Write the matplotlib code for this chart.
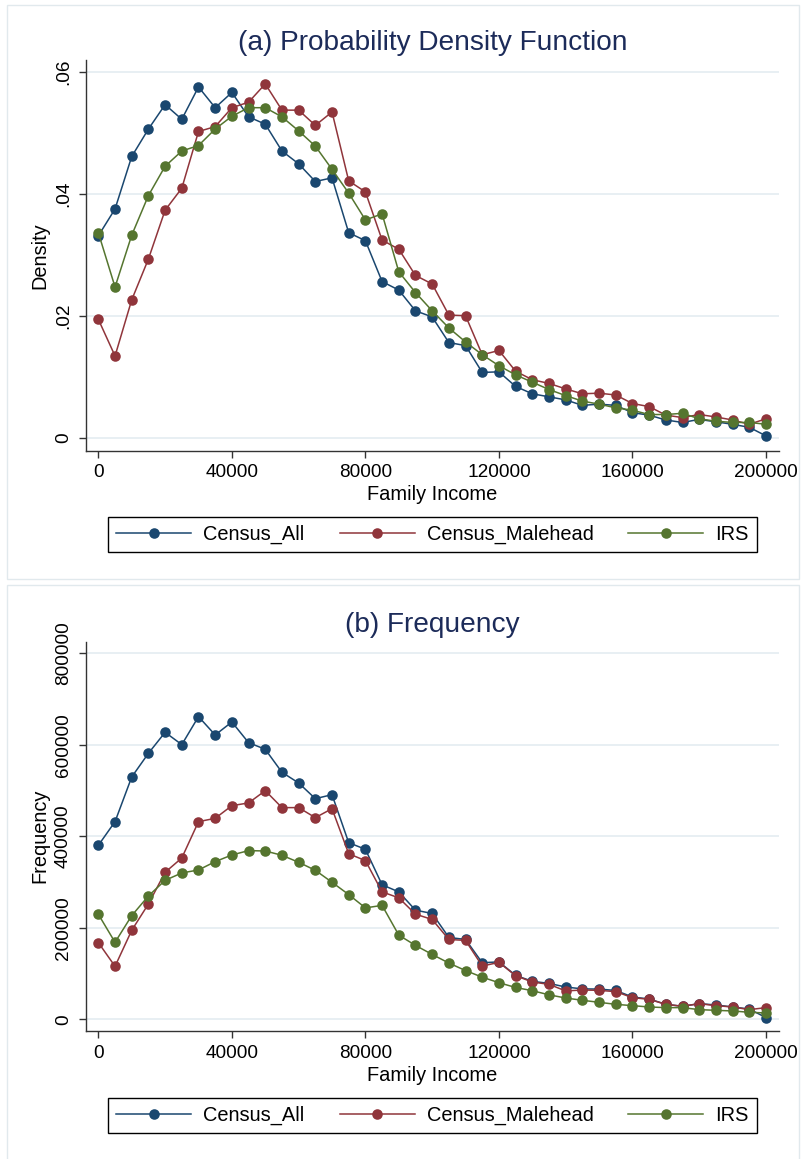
import matplotlib
matplotlib.use("Agg")
import matplotlib.pyplot as plt
from matplotlib.patches import Rectangle

plt.rcParams['font.family'] = ['Liberation Sans', 'DejaVu Sans']

income = [0, 5000, 10000, 15000, 20000, 25000, 30000, 35000, 40000, 45000,
          50000, 55000, 60000, 65000, 70000, 75000, 80000, 85000, 90000, 95000,
          100000, 105000, 110000, 115000, 120000, 125000, 130000, 135000, 140000, 145000,
          150000, 155000, 160000, 165000, 170000, 175000, 180000, 185000, 190000, 195000,
          200000]

dens_all = [0.0331, 0.0375, 0.0461, 0.0506, 0.0546, 0.0522, 0.0575, 0.0541, 0.0566, 0.0526,
            0.0514, 0.0470, 0.0449, 0.0420, 0.0426, 0.0336, 0.0323, 0.0256, 0.0242, 0.0208,
            0.0198, 0.0156, 0.0151, 0.0107, 0.0108, 0.0084, 0.0072, 0.0067, 0.0062, 0.0053,
            0.0055, 0.0053, 0.0041, 0.0037, 0.0029, 0.0025, 0.0030, 0.0026, 0.0022, 0.0017,
            0.0003]
dens_male = [0.0194, 0.0134, 0.0226, 0.0293, 0.0373, 0.0409, 0.0502, 0.0510, 0.0541, 0.0550,
             0.0580, 0.0537, 0.0537, 0.0512, 0.0534, 0.0421, 0.0403, 0.0324, 0.0309, 0.0266,
             0.0252, 0.0201, 0.0200, 0.0136, 0.0143, 0.0109, 0.0095, 0.0089, 0.0080, 0.0072,
             0.0073, 0.0070, 0.0056, 0.0051, 0.0037, 0.0033, 0.0038, 0.0034, 0.0029, 0.0022,
             0.0031]
dens_irs = [0.0336, 0.0247, 0.0332, 0.0397, 0.0445, 0.0470, 0.0479, 0.0506, 0.0527, 0.0541,
            0.0541, 0.0526, 0.0503, 0.0478, 0.0440, 0.0401, 0.0357, 0.0367, 0.0272, 0.0238,
            0.0208, 0.0180, 0.0157, 0.0136, 0.0118, 0.0103, 0.0091, 0.0079, 0.0069, 0.0060,
            0.0055, 0.0049, 0.0045, 0.0038, 0.0038, 0.0040, 0.0031, 0.0027, 0.0025, 0.0025,
            0.0022]

freq_all = [380300, 432000, 529700, 581400, 627300, 600400, 661600, 621500, 649900, 604700,
            590200, 539900, 516600, 482300, 491000, 386000, 371600, 294000, 278500, 238500,
            231300, 178900, 174500, 123600, 125500, 96000, 83000, 78500, 70500, 66500,
            66000, 63000, 48700, 44400, 32700, 28400, 34200, 31300, 26900, 22500,
            3600]
freq_male = [167600, 115800, 194500, 252100, 321300, 352600, 432000, 439300, 467000, 472900,
             499800, 462700, 462700, 440800, 460400, 361800, 346900, 278500, 265500, 229800,
             218200, 174500, 172400, 116400, 124400, 95300, 81500, 76400, 62000, 64000,
             63300, 60400, 47300, 43600, 32700, 28400, 34200, 29800, 26900, 21100,
             25500]
freq_irs = [229500, 168300, 226600, 269600, 303800, 319900, 326400, 344600, 359200, 368700,
            367900, 358500, 343200, 325700, 299500, 272600, 243500, 249000, 184000, 161500,
            141800, 122900, 106500, 92000, 80000, 69500, 62500, 53500, 46500, 41500,
            37100, 32700, 29800, 26900, 25500, 25500, 21100, 19600, 18200, 15300,
            13800]

series_names = ['Census_All', 'Census_Malehead', 'IRS']
colors = ['#1a476f', '#90353b', '#55752f']

x_ticks = [0, 40000, 80000, 120000, 160000, 200000]
x_ticklabels = ['0', '40000', '80000', '120000', '160000', '200000']
dens_ticks = [0, 0.02, 0.04, 0.06]
dens_ticklabels = ['0', '.02', '.04', '.06']
freq_ticks = [0, 200000, 400000, 600000, 800000]
freq_ticklabels = ['0', '200000', '400000', '600000', '800000']

W, H = 803, 1159
fig = plt.figure(figsize=(W / 100, H / 100), dpi=100)
fig.patch.set_facecolor('white')


def rect(l, t, r, b):
    return [l / W, 1 - b / H, (r - l) / W, (b - t) / H]


# panel frames
fig.patches.append(Rectangle((7.3 / W, 1 - 579 / H), (799 - 7.3) / W, (579 - 4.7) / H,
                             transform=fig.transFigure, fill=False, ec='#e1e9ed', lw=1.0))
fig.patches.append(Rectangle((7.3 / W, 1 - 1170 / H), (799 - 7.3) / W, (1170 - 585.3) / H,
                             transform=fig.transFigure, fill=False, ec='#e1e9ed', lw=1.0))

title_color = '#1c2b59'
tick_fs = 13.7
label_fs = 14.4
title_fs = 20.2
legend_fs = 14.4


def style(ax, ylim, yticks, yticklabels, ylabel, title, title_y, legend_y, xpad, xlabelpad):
    ax.set_xlim(-3700, 203900)
    ax.set_ylim(*ylim)
    for s in ['top', 'right']:
        ax.spines[s].set_visible(False)
    for s in ['left', 'bottom']:
        ax.spines[s].set_color('#333333')
        ax.spines[s].set_linewidth(1.0)
    ax.set_xticks(x_ticks)
    ax.set_xticklabels(x_ticklabels, fontsize=tick_fs)
    ax.set_yticks(yticks)
    ax.set_yticklabels(yticklabels, fontsize=tick_fs, rotation=90, va='center')
    ax.tick_params(axis='both', length=5.2, width=1.0, color='#333333')
    ax.tick_params(axis='x', pad=xpad)
    ax.tick_params(axis='y', pad=5)
    ax.grid(axis='y', color='#e6eef2', lw=1.3)
    ax.set_axisbelow(True)
    ax.set_xlabel('Family Income', fontsize=label_fs, labelpad=xlabelpad)
    ax.set_ylabel(ylabel, fontsize=label_fs, labelpad=4)
    fig.text((86 + 779) / 2 / W, 1 - title_y / H, title, ha='center', va='baseline',
             fontsize=title_fs, color=title_color)
    leg = ax.legend(ncol=3, loc='center',
                    bbox_to_anchor=((107 + 758) / 2 / W, 1 - legend_y / H),
                    bbox_transform=fig.transFigure, frameon=True, fancybox=False,
                    edgecolor='black', framealpha=1, handlelength=3.75, handletextpad=0.6,
                    columnspacing=1.75, borderpad=0.4, fontsize=legend_fs)
    leg.get_frame().set_linewidth(1.0)


ax1 = fig.add_axes(rect(86, 60, 779, 451))
for vals, name, c in zip([dens_all, dens_male, dens_irs], series_names, colors):
    ax1.plot(income, vals, color=c, lw=1.1, marker='o', markersize=7.6,
             markeredgewidth=0, label=name)
style(ax1, (-0.00218, 0.06192), dens_ticks, dens_ticklabels, 'Density',
      '(a) Probability Density Function', 50, 534.2, 4.2, 2.5)

ax2 = fig.add_axes(rect(86, 641.6, 779, 1031))
for vals, name, c in zip([freq_all, freq_male, freq_irs], series_names, colors):
    ax2.plot(income, vals, color=c, lw=1.1, marker='o', markersize=7.6,
             markeredgewidth=0, label=name)
style(ax2, (-25600, 825600), freq_ticks, freq_ticklabels, 'Frequency',
      '(b) Frequency', 631.7, 1115.5, 5.0, 3.0)

fig.savefig('out.png', dpi=100, facecolor='white')
